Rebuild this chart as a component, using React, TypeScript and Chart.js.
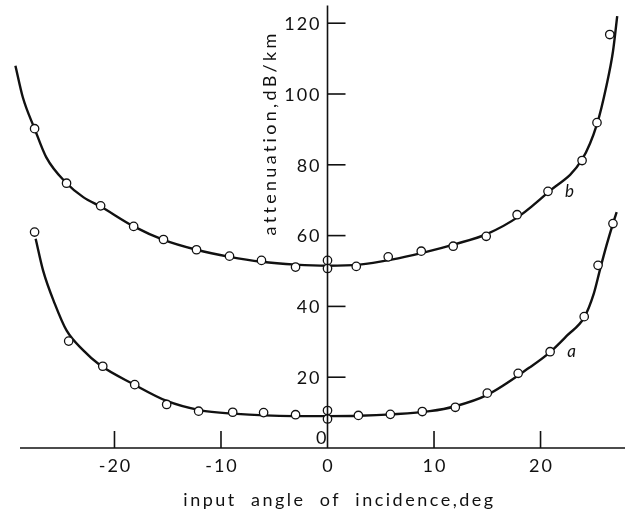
import React, { useEffect, useRef } from "react";
import { Chart, registerables } from "chart.js";
Chart.register(...registerables);

// Axis ticks
const xTickValues = [-20, -10, 0, 10, 20];
const yTickValues = [0, 20, 40, 60, 80, 100, 120];

// Curve b (upper): measured points
const bPointX = [-27.5, -24.5, -21.3, -18.2, -15.4, -12.3, -9.2, -6.2, -3.0, 0, 0, 2.7, 5.7, 8.8, 11.8, 14.9, 17.8, 20.7, 23.9, 25.3, 26.5];
const bPointY = [90.2, 74.8, 68.4, 62.6, 58.9, 56.0, 54.2, 53.0, 51.1, 53.0, 50.7, 51.3, 54.0, 55.6, 57.0, 59.8, 65.9, 72.5, 81.2, 91.9, 116.8];
// Curve b: drawn fitted line
const bLineX = [-29.3, -28.6, -27.5, -26.4, -24.5, -22.9, -21.3, -18.2, -15.4, -12.3, -9.2, -6.2, -3.0, 0, 3.0, 6.0, 9.0, 12.0, 15.0, 18.0, 20.7, 23.9, 25.3, 26.2, 26.8, 27.2];
const bLineY = [108, 99, 90.2, 82.1, 74.8, 70.8, 68.2, 62.6, 58.8, 56.0, 54.0, 52.6, 51.8, 51.5, 51.8, 53.2, 55.2, 57.6, 60.5, 65.5, 72.2, 81.5, 91.5, 102.5, 112, 122];

// Curve a (lower): measured points
const aPointX = [-27.5, -24.3, -21.1, -18.1, -15.1, -12.1, -8.9, -6.0, -3.0, 0, 0, 2.9, 5.9, 8.9, 12.0, 15.0, 17.9, 20.9, 24.1, 25.4, 26.8];
const aPointY = [61.0, 30.2, 23.1, 17.9, 12.3, 10.4, 10.1, 10.0, 9.4, 10.6, 8.2, 9.2, 9.5, 10.3, 11.5, 15.5, 21.1, 27.2, 37.1, 51.6, 63.4];
// Curve a: drawn fitted line
const aLineX = [-27.4, -26.7, -25.6, -24.5, -22.9, -21.4, -18.2, -15.1, -12.0, -8.9, -3.2, 0, 3, 6, 9.6, 12, 15, 19, 20.9, 22.5, 24.1, 25.0, 25.6, 26.2, 26.8, 27.15];
const aLineY = [59.1, 50.1, 40.7, 33.2, 27.5, 23.5, 18.0, 13.3, 10.7, 9.7, 9.0, 9.0, 9.1, 9.5, 10.4, 11.8, 15.0, 22.8, 27.1, 31.8, 36.9, 43.6, 50.6, 57.3, 63.4, 66.6];

const xTitle = "input  angle  of  incidence,deg";
const yTitle = "attenuation,dB/km";
const curveLabels = [
  { text: "b", x: 22.3, y: 72.5 },
  { text: "a", x: 22.5, y: 27.2 },
];

const FONT = "Lato, 'DejaVu Sans', sans-serif";

const zip = (xs: number[], ys: number[]) => xs.map((x, i) => ({ x, y: ys[i] }));

const axesPlugin = {
  id: "centerAxes",
  afterDatasetsDraw(chart: any) {
    const { ctx, chartArea } = chart;
    const xs = chart.scales.x;
    const ys = chart.scales.y;
    const x0 = xs.getPixelForValue(0);
    const y0 = ys.getPixelForValue(0);
    ctx.save();
    ctx.strokeStyle = "#111";
    ctx.fillStyle = "#111";
    ctx.lineWidth = 1.6;
    ctx.beginPath();
    ctx.moveTo(chartArea.left, y0);
    ctx.lineTo(chartArea.right, y0);
    ctx.stroke();
    ctx.beginPath();
    ctx.moveTo(x0, y0);
    ctx.lineTo(x0, chartArea.top);
    ctx.stroke();

    ctx.font = `18px ${FONT}`;
    (ctx as any).letterSpacing = "2px";
    ctx.textBaseline = "middle";
    // x ticks
    ctx.textAlign = "center";
    xTickValues.forEach((v) => {
      const px = xs.getPixelForValue(v);
      if (v !== 0) {
        ctx.beginPath();
        ctx.moveTo(px, y0);
        ctx.lineTo(px, y0 - 17);
        ctx.stroke();
      }
      ctx.fillText(String(v), px + 1, y0 + 18);
    });
    // y ticks
    ctx.textAlign = "right";
    yTickValues.forEach((v) => {
      const py = ys.getPixelForValue(v);
      if (v !== 0) {
        ctx.beginPath();
        ctx.moveTo(x0, py);
        ctx.lineTo(x0 + 18, py);
        ctx.stroke();
        ctx.fillText(String(v), x0 - 6, py + 1);
      } else {
        ctx.fillText(String(v), x0 + 1, py - 10);
      }
    });
    // titles
    ctx.textAlign = "center";
    (ctx as any).letterSpacing = "2.5px";
    ctx.fillText(xTitle, x0 + 12, y0 + 52);
    (ctx as any).letterSpacing = "3.3px";
    ctx.save();
    ctx.translate(x0 - 57, ys.getPixelForValue(89));
    ctx.rotate(-Math.PI / 2);
    ctx.fillText(yTitle, 0, 0);
    ctx.restore();
    // curve labels
    ctx.font = `italic 17px ${FONT}`;
    (ctx as any).letterSpacing = "0px";
    ctx.textAlign = "left";
    curveLabels.forEach((l) => {
      ctx.fillText(l.text, xs.getPixelForValue(l.x), ys.getPixelForValue(l.y));
    });
    ctx.restore();
  },
};

export default function App() {
  const ref = useRef<HTMLCanvasElement | null>(null);
  useEffect(() => {
    if (!ref.current) return;
    const pointStyle = {
      showLine: false,
      pointRadius: 4.2,
      pointBorderWidth: 1.3,
      pointBackgroundColor: "#ffffff",
      pointBorderColor: "#111111",
      clip: false as any,
      order: 0,
    };
    const lineStyle = {
      showLine: true,
      pointRadius: 0,
      borderColor: "#111111",
      borderWidth: 2.4,
      cubicInterpolationMode: "monotone" as const,
      clip: false as any,
      order: 1,
    };
    const chart = new Chart(ref.current, {
      type: "scatter",
      data: {
        datasets: [
          { label: "b points", data: zip(bPointX, bPointY), ...pointStyle },
          { label: "a points", data: zip(aPointX, aPointY), ...pointStyle },
          { label: "b", data: zip(bLineX, bLineY), ...lineStyle },
          { label: "a", data: zip(aLineX, aLineY), ...lineStyle },
        ],
      },
      options: {
        animation: false,
        responsive: false,
        maintainAspectRatio: false,
        events: [],
        layout: { padding: { left: 20, right: 8, top: 5, bottom: 65 } },
        plugins: { legend: { display: false }, tooltip: { enabled: false } },
        scales: {
          x: { type: "linear", min: -28.87, max: 27.93, display: false },
          y: { type: "linear", min: 0, max: 125, display: false },
        },
      },
      plugins: [axesPlugin],
    });
    return () => chart.destroy();
  }, []);
  return (
    <div style={{ position: "fixed", left: 0, top: 0, width: 633, height: 513, background: "#fff" }}>
      <canvas ref={ref} width={633} height={513} style={{ width: 633, height: 513, display: "block" }} />
    </div>
  );
}
